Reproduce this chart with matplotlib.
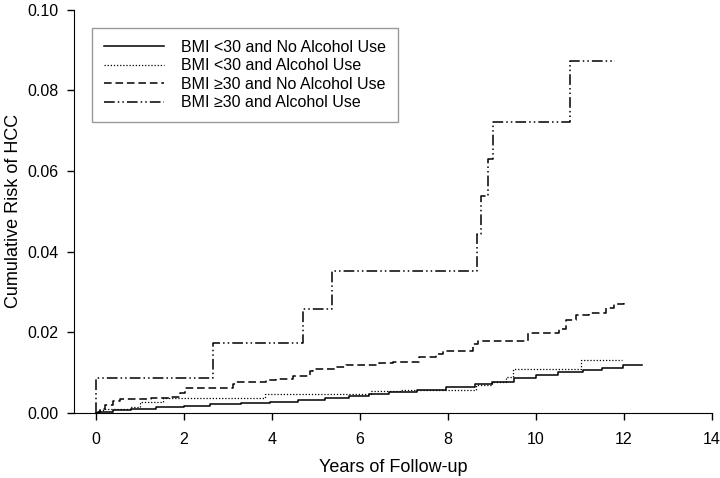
import matplotlib
matplotlib.use("Agg")
import matplotlib.pyplot as plt

plt.rcParams['font.family'] = ['Liberation Sans', 'DejaVu Sans']

# --- données (années, risque cumulé) ----------------------------------------
t_low_noalc = [0, 0.05, 0.39, 0.8, 1.37, 2.0, 2.6, 3.3, 3.95, 4.6, 5.2, 5.76, 6.2,
               6.67, 7.3, 7.96, 8.62, 9.0, 9.5, 10.0, 10.5, 11.06, 11.5, 11.97, 12.4]
r_low_noalc = [0, 0.0002, 0.0007, 0.001, 0.0014, 0.0018, 0.0022, 0.0025, 0.0028, 0.0033,
               0.0038, 0.0042, 0.0047, 0.0053, 0.0058, 0.0065, 0.0071, 0.0078, 0.0086,
               0.0095, 0.0101, 0.0106, 0.0112, 0.0119, 0.012]

t_low_alc = [0, 0.05, 0.2, 0.77, 1.0, 1.53, 3.83, 6.26, 6.9, 8.64, 9.01, 9.32, 9.47, 11.02, 11.95]
r_low_alc = [0, 0.0007, 0.001, 0.0016, 0.0028, 0.0038, 0.0048, 0.0055, 0.0058, 0.0069,
             0.0077, 0.009, 0.011, 0.0131, 0.0131]

t_high_noalc = [0, 0.1, 0.2, 0.39, 0.54, 1.26, 1.68, 1.9, 2.02, 3.11, 3.19, 3.87, 4.1,
                4.48, 4.86, 4.93, 5.46, 5.69, 6.44, 6.75, 7.35, 7.73, 7.88, 8.56, 8.68,
                9.81, 10.53, 10.68, 10.9, 11.21, 11.59, 11.78, 12.0]
r_high_noalc = [0, 0.001, 0.002, 0.003, 0.0034, 0.0038, 0.004, 0.0049, 0.0061, 0.0073,
                0.0076, 0.0081, 0.0085, 0.0091, 0.0104, 0.011, 0.0114, 0.012, 0.0123,
                0.0127, 0.0139, 0.0147, 0.0154, 0.0172, 0.0178, 0.0199, 0.0209, 0.023,
                0.0242, 0.0248, 0.0261, 0.0271, 0.0272]

t_high_alc = [0, 0, 2.65, 4.70, 5.36, 8.65, 8.75, 8.92, 9.03, 10.78, 11.8]
r_high_alc = [0, 0.0086, 0.0173, 0.0259, 0.0353, 0.0444, 0.0538, 0.063, 0.0721, 0.0872, 0.0872]

labels = ["BMI <30 and No Alcohol Use", "BMI <30 and Alcohol Use",
          "BMI \u226530 and No Alcohol Use", "BMI \u226530 and Alcohol Use"]

fig = plt.figure(figsize=(7.2, 4.78), dpi=100)
ax = fig.add_axes([0.1028, 0.136, 0.886, 0.844])

ax.step(t_low_noalc, r_low_noalc, where="post", color="black", lw=1.1, label=labels[0])
ax.step(t_low_alc, r_low_alc, where="post", color="black", lw=0.9,
        linestyle=(0, (1, 1.5)), label=labels[1])
ax.step(t_high_noalc, r_high_noalc, where="post", color="black", lw=1.1,
        linestyle=(0, (5, 2.5)), label=labels[2])
ax.step(t_high_alc, r_high_alc, where="post", color="black", lw=1.1,
        linestyle=(0, (7, 2, 1, 2, 1, 2)), label=labels[3])

ax.set_xlim(-0.5, 14)
ax.set_ylim(0, 0.10)
ax.set_xticks(range(0, 15, 2))
ax.set_yticks([0, 0.02, 0.04, 0.06, 0.08, 0.10])
ax.set_yticklabels(["0.00", "0.02", "0.04", "0.06", "0.08", "0.10"])
ax.spines["top"].set_visible(False)
ax.spines["right"].set_visible(False)
ax.tick_params(direction="out", length=5, width=1, labelsize=11.5)
ax.tick_params(axis="x", pad=9)
ax.tick_params(axis="y", pad=6)
ax.set_xlabel("Years of Follow-up", fontsize=13, labelpad=8)
ax.set_ylabel("Cumulative Risk of HCC", fontsize=13)
ax.yaxis.set_label_coords(-0.081, 0.5)

leg = ax.legend(loc="upper left", bbox_to_anchor=(92 / 720, 1 - 27.7 / 478),
                bbox_transform=fig.transFigure, fontsize=11.5, fancybox=False,
                handlelength=3.75, handletextpad=1.05, labelspacing=0.22,
                borderpad=0.75, borderaxespad=0)
leg.get_frame().set_edgecolor("gray")
leg.get_frame().set_linewidth(1.0)

fig.savefig("out.png", dpi=100)
